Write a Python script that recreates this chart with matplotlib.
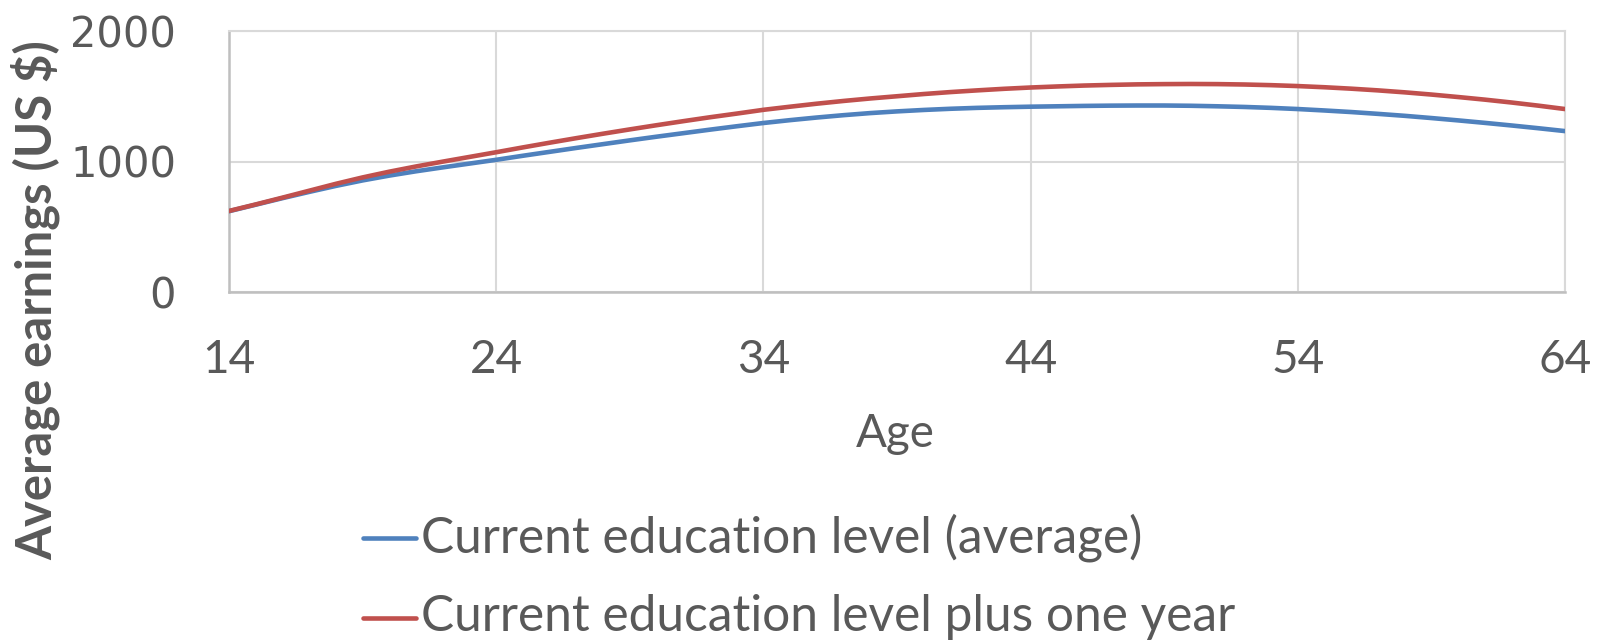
import matplotlib
matplotlib.use("Agg")
import matplotlib.pyplot as plt
from matplotlib.lines import Line2D

# Average earnings by age
ages = list(range(14, 65))
earn_current = [
    619, 669, 719, 767, 813, 855, 892, 925, 955, 984,
    1013, 1044, 1074, 1104, 1133, 1162, 1190, 1217, 1244, 1270,
    1295, 1317, 1337, 1355, 1371, 1384, 1395, 1404, 1411, 1416,
    1420, 1423, 1426, 1428, 1429, 1429, 1427, 1423, 1418, 1411,
    1402, 1391, 1379, 1365, 1350, 1333, 1315, 1296, 1276, 1255,
    1233,
]
earn_plus_one = [
    621, 671, 723, 776, 829, 878, 922, 962, 999, 1035,
    1071, 1108, 1144, 1179, 1213, 1246, 1278, 1309, 1339, 1367,
    1396, 1420, 1443, 1464, 1483, 1500, 1517, 1532, 1545, 1557,
    1567, 1575, 1582, 1587, 1591, 1593, 1594, 1593, 1590, 1585,
    1578, 1569, 1558, 1545, 1530, 1513, 1494, 1474, 1452, 1428,
    1402,
]
series_labels = ["Current education level (average)",
                 "Current education level plus one year"]
x_ticks = [14, 24, 34, 44, 54, 64]
y_ticks = [0, 1000, 2000]

BLUE = "#4f81bd"
RED = "#c0504d"
TEXT = "#595959"
GRID = "#d9d9d9"
AXIS = "#bfbfbf"
HUMANIST = ["Lato", "DejaVu Sans"]
LW = 3.3

W, H = 1602, 642
fig = plt.figure(figsize=(W / 100, H / 100), dpi=100)
ax = fig.add_axes([229 / W, 1 - 292 / H, (1565 - 229) / W, (292 - 31) / H])


def fx(px):
    return px / W


def fy(px):
    return 1 - px / H


ax.plot(ages, earn_current, color=BLUE, lw=LW, solid_capstyle="round", zorder=3)
ax.plot(ages, earn_plus_one, color=RED, lw=LW, solid_capstyle="round", zorder=4)

ax.set_xlim(14, 64)
ax.set_ylim(0, 2000)
ax.set_xticks(x_ticks)
ax.set_yticks(y_ticks)
ax.grid(True, color=GRID, lw=1.5, zorder=0)
ax.set_axisbelow(True)

for side in ("top", "right"):
    ax.spines[side].set_color(GRID)
    ax.spines[side].set_linewidth(1.5)
for side in ("left", "bottom"):
    ax.spines[side].set_color(AXIS)
    ax.spines[side].set_linewidth(1.8)

ax.tick_params(axis="both", length=0, colors=TEXT)
ax.tick_params(axis="x", pad=34)
ax.tick_params(axis="y", pad=38)
for lab in ax.get_xticklabels():
    lab.set_fontfamily(HUMANIST)
    lab.set_fontsize(33)
for lab in ax.get_yticklabels():
    lab.set_fontfamily(["DejaVu Sans"])
    lab.set_fontsize(30)

ylab = fig.text(fx(36), fy(300), "Average earnings (US $)", rotation=90,
                ha="center", va="center", color=TEXT, fontsize=30,
                fontweight="bold", family=HUMANIST)
age_lab = fig.text(fx(895), fy(434), "Age", ha="center", va="center",
                   color=TEXT, fontsize=32, family=HUMANIST)

# legend drawn as short line samples with labels beside them
legend_rows = [(BLUE, 537.5), (RED, 617.5)]
legend_texts = []
for (color, ypx), label in zip(legend_rows, series_labels):
    fig.add_artist(Line2D([fx(363), fx(416)], [fy(ypx), fy(ypx)],
                          color=color, lw=LW, solid_capstyle="round"))
    legend_texts.append(fig.text(fx(421), fy(ypx), label, ha="left",
                                 va="center", color=TEXT, fontsize=31,
                                 family=HUMANIST))

# scale the text sizes to their intended extents
renderer = fig.canvas.get_renderer()


def fit(txt, target, vertical=False):
    bb = txt.get_window_extent(renderer)
    size = bb.height if vertical else bb.width
    txt.set_fontsize(txt.get_fontsize() * target / size)


fit(ylab, 519, vertical=True)
fit(age_lab, 79)
fit(legend_texts[0], 719)
legend_texts[1].set_fontsize(legend_texts[0].get_fontsize())

fig.savefig("out.png", dpi=100)
